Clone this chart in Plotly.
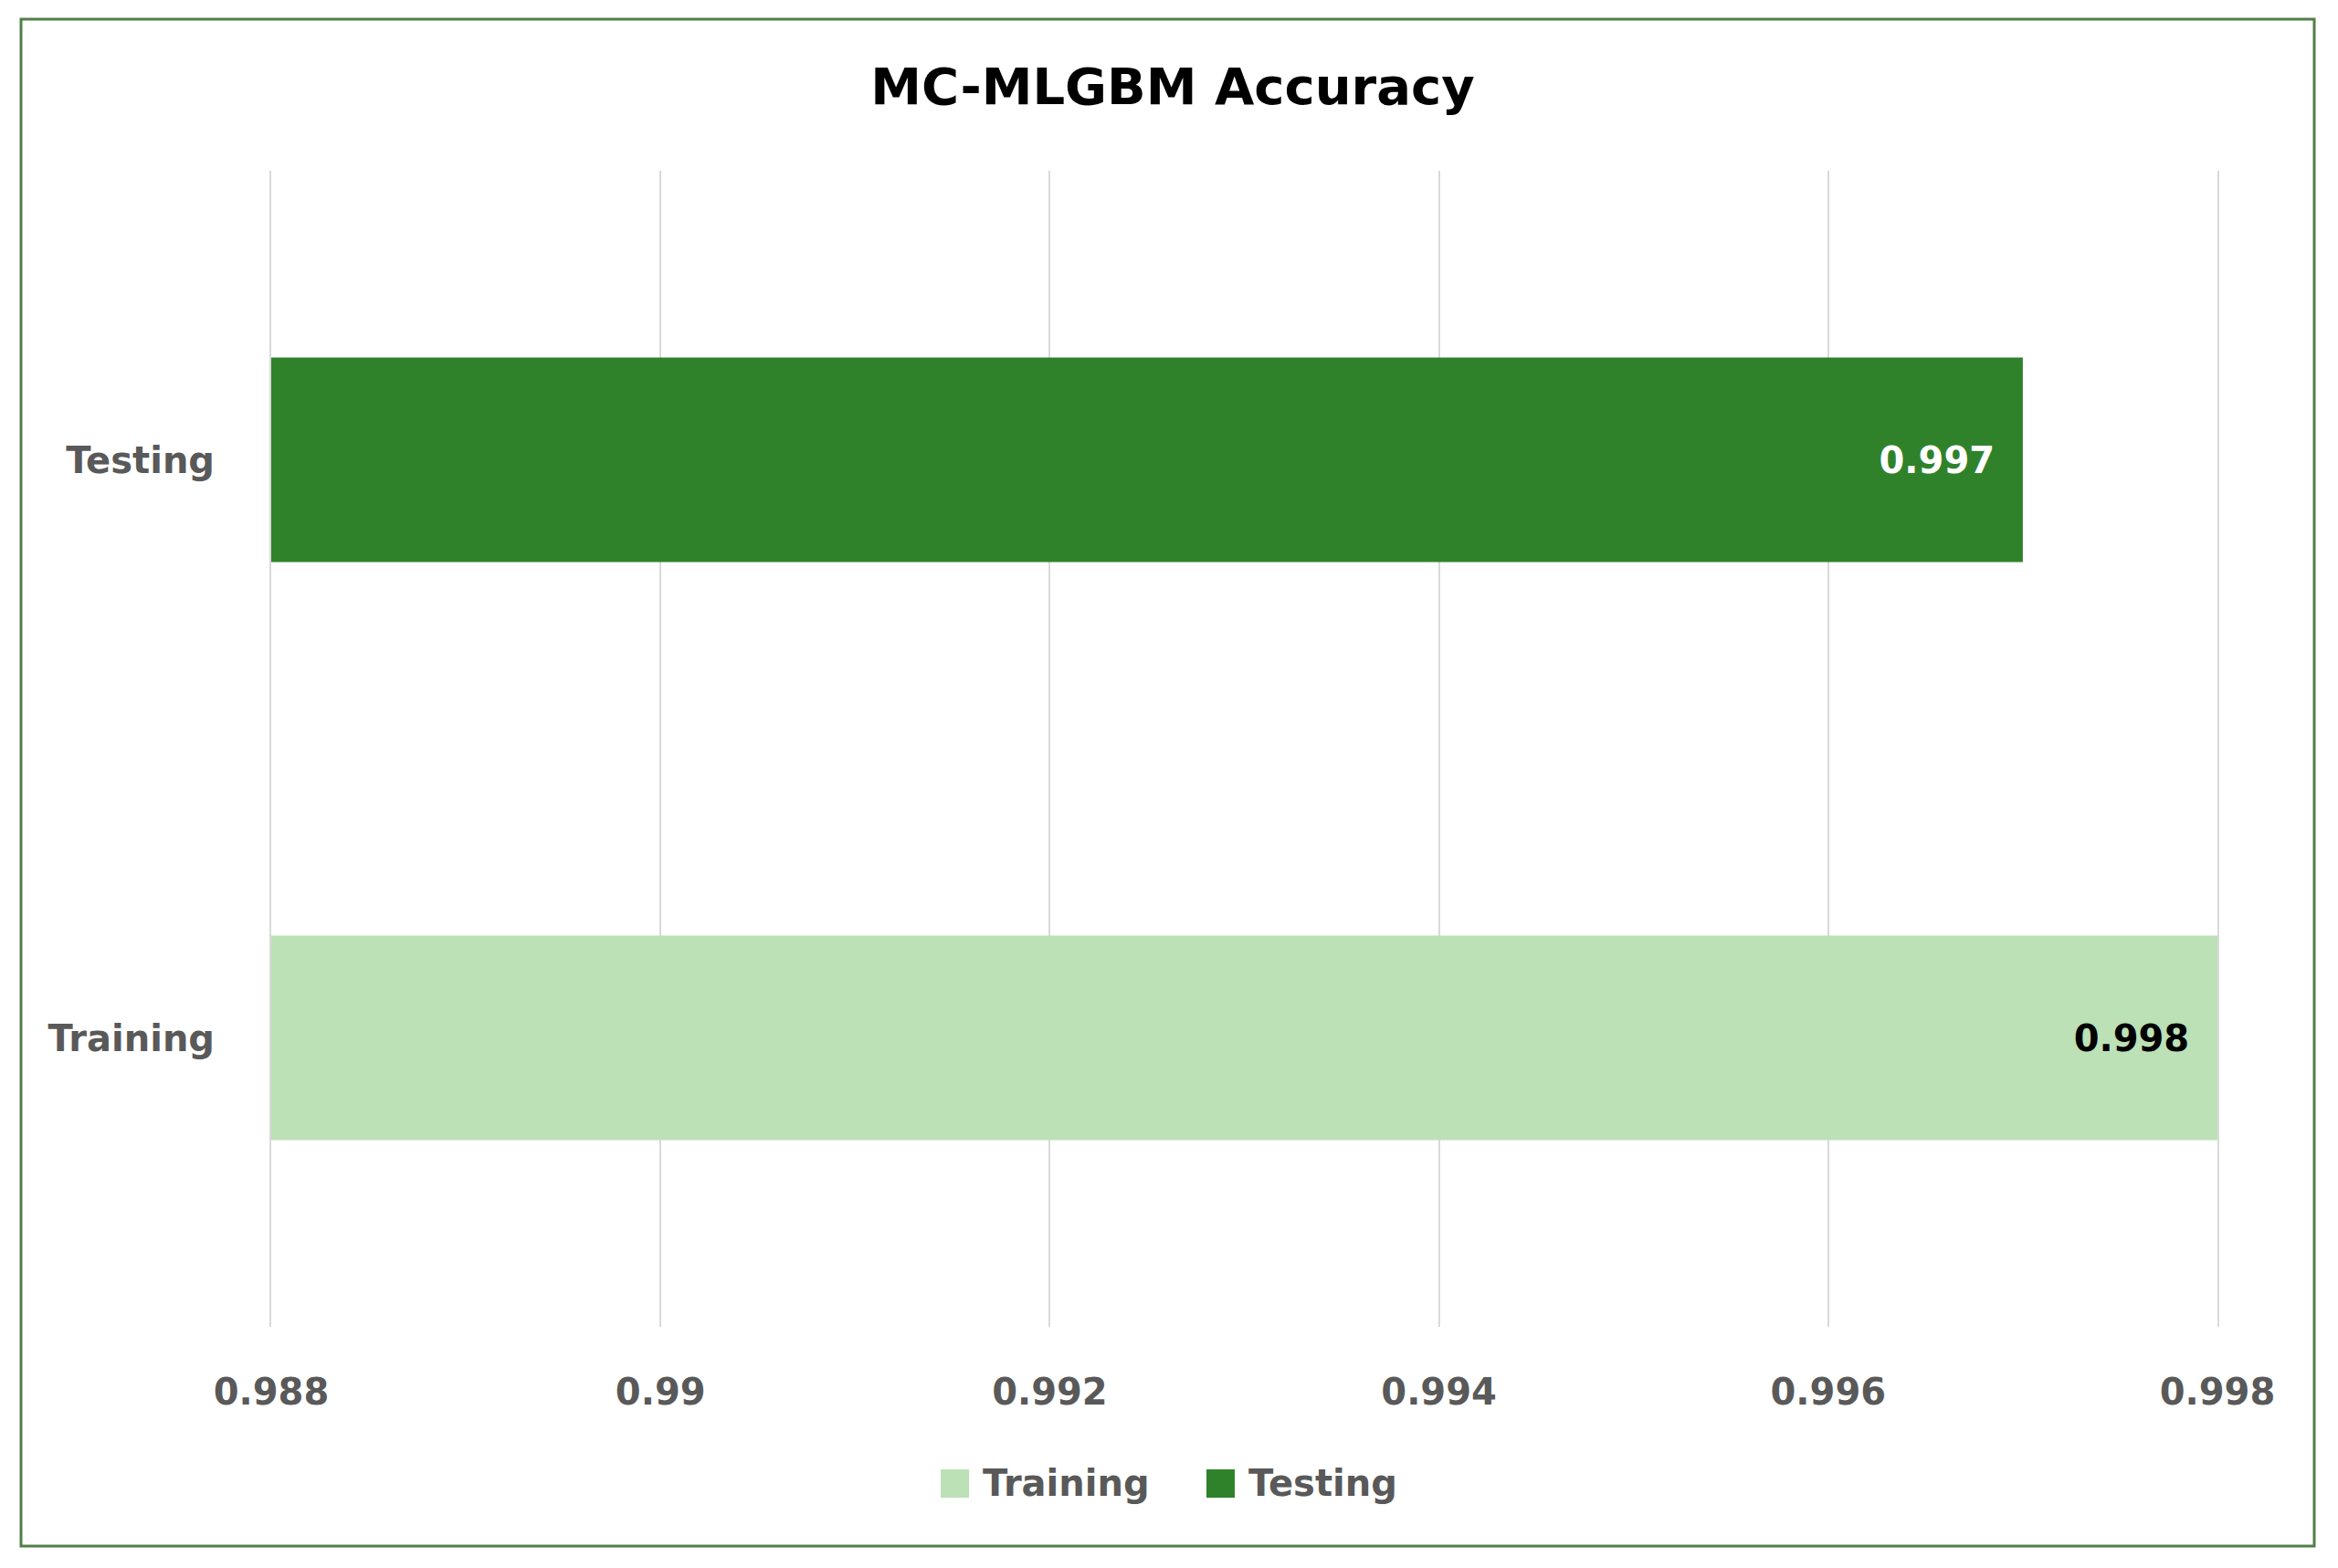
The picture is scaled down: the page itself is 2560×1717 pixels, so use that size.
import plotly.graph_objects as go

# data
categories = ["Training", "Testing"]
accuracy = [0.998, 0.997]
bar_colors = ["#BCE1B6", "#30822A"]
label_colors = ["#000000", "#FFFFFF"]
x_ticks = [0.988, 0.990, 0.992, 0.994, 0.996, 0.998]
x_tick_text = ["0.988", "0.99", "0.992", "0.994", "0.996", "0.998"]

# page is 2560x1717, the html body adds an 8px margin -> work in page pixels
OFF = 8
W, H = 2560 - OFF, 1717 - OFF
L, R, T, B = 297 - OFF, 2428 - OFF, 187 - OFF, 1453 - OFF
FONT = "DejaVu Sans"


def px(x):
    return (x - OFF - L) / (R - L)


def py(y):
    return (B - (y - OFF)) / (B - T)


fig = go.Figure()
for cat, val, col, tcol in zip(categories, accuracy, bar_colors, label_colors):
    fig.add_trace(go.Bar(
        y=[cat], x=[val], orientation="h", name=cat,
        marker=dict(color=col, line=dict(width=0)),
        width=0.354,
        text=[f"{val:.3f}"], texttemplate="%{text}\u00a0\u00a0",
        textposition="inside", insidetextanchor="end",
        textfont=dict(family=FONT, size=40, color=tcol, weight="bold"),
        showlegend=False,
    ))

# ── manual legend (big square swatches like the original) ───────────────
legend_items = [("Training", 1030), ("Testing", 1321)]
shapes = []
annotations = []
for (name, x0), col in zip(legend_items, bar_colors):
    shapes.append(dict(type="rect", xref="paper", yref="paper",
                       x0=px(x0), x1=px(x0 + 31), y0=py(1640), y1=py(1609),
                       fillcolor=col, line=dict(width=0)))
    annotations.append(dict(text=name, xref="paper", yref="paper",
                            x=px(x0 + 44), y=py(1624), xanchor="left", yanchor="middle",
                            showarrow=False,
                            font=dict(family=FONT, size=40, color="#595959", weight="bold")))

# outer chart border
shapes.append(dict(type="rect", xref="paper", yref="paper",
                   x0=px(23), x1=px(2534), y0=py(1693), y1=py(21),
                   line=dict(color="#517E48", width=3), layer="below"))

fig.update_layout(
    width=W, height=H,
    margin=dict(l=L, r=W - R, t=T, b=H - B),
    paper_bgcolor="white", plot_bgcolor="white",
    barmode="overlay",
    title=dict(text="<b>MC-MLGBM Accuracy</b>", x=0.5, xanchor="center",
               y=1 - (94 - OFF) / H, yanchor="middle", yref="container",
               font=dict(family=FONT, size=56, color="#000000")),
    xaxis=dict(range=[0.988, 0.998], tickvals=x_ticks, ticktext=x_tick_text,
               showgrid=True, gridcolor="#D9D9D9", gridwidth=2,
               zeroline=False, showline=False, ticks="",
               ticklabelstandoff=44,
               tickfont=dict(family=FONT, size=40, color="#595959", weight="bold")),
    yaxis=dict(categoryorder="array", categoryarray=categories,
               range=[-0.5, 1.5], showgrid=False, zeroline=False,
               showline=True, mirror=True, linecolor="#D9D9D9", linewidth=2,
               layer="below traces",
               ticks="", ticklabelstandoff=52,
               tickfont=dict(family=FONT, size=40, color="#595959", weight="bold")),
    shapes=shapes,
    annotations=annotations,
)

fig.write_html("out.html")
